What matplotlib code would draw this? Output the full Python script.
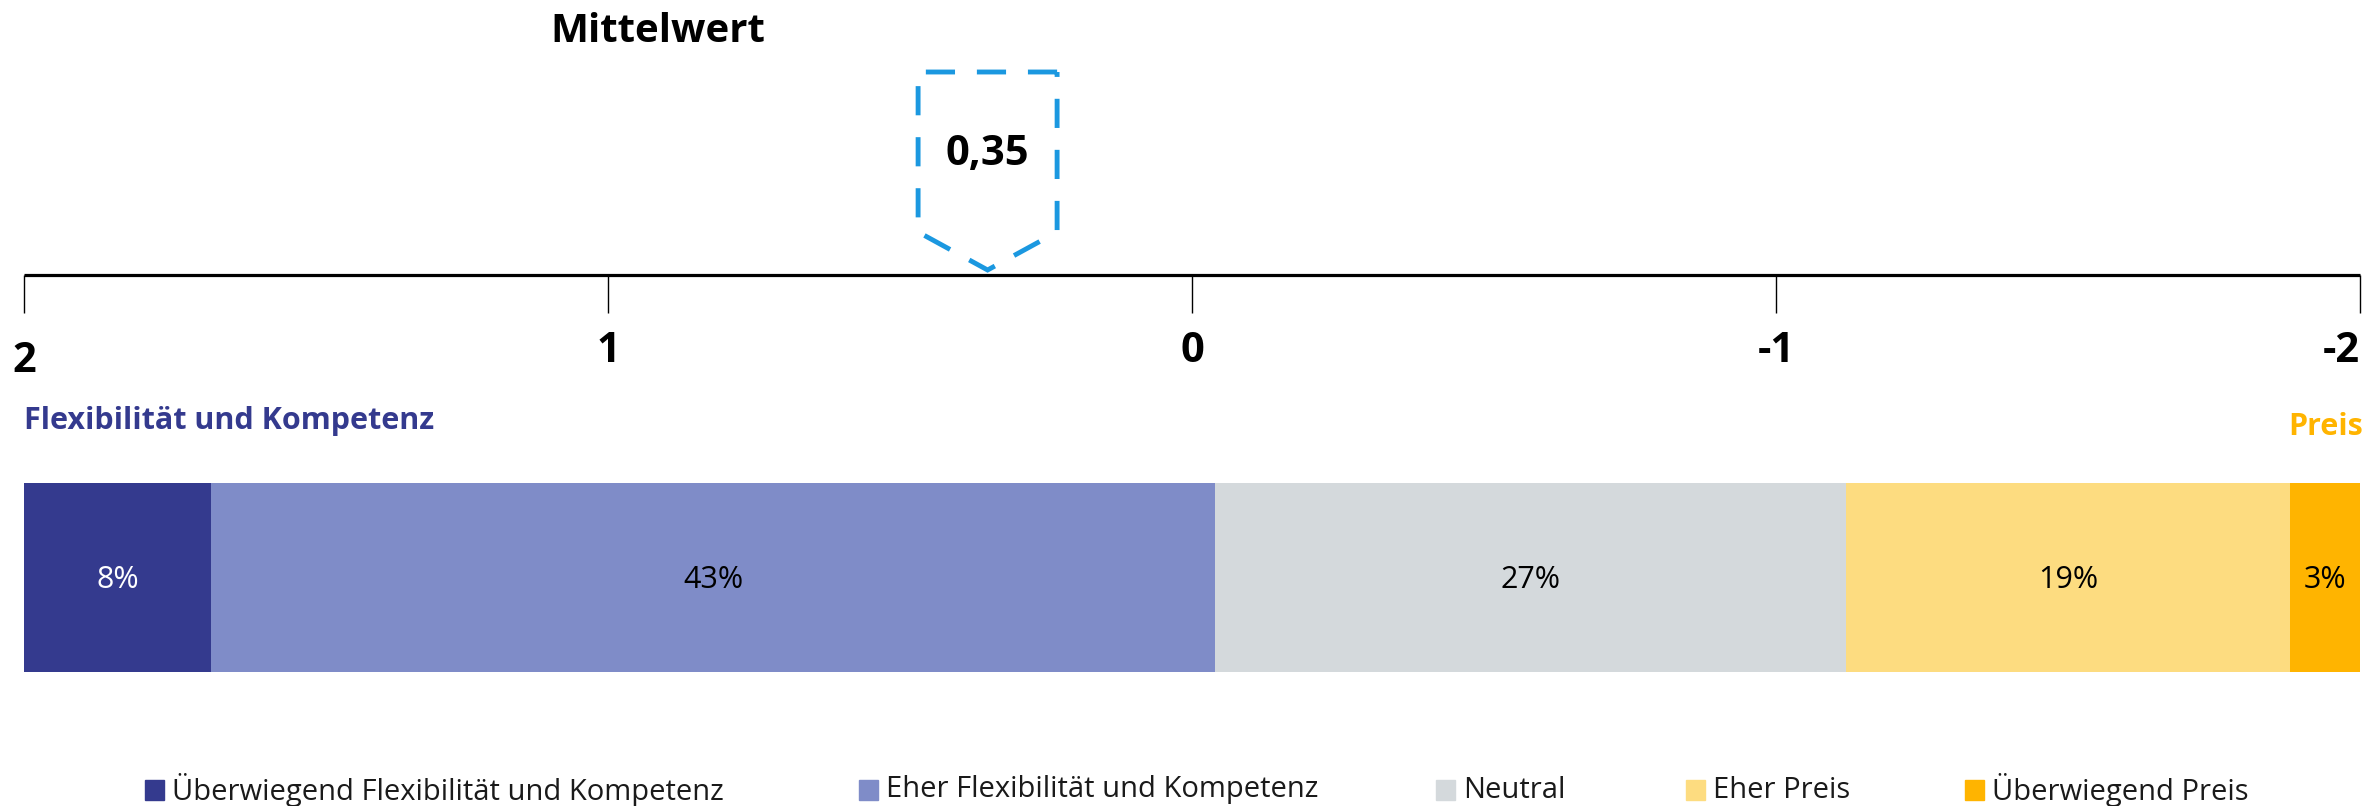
import matplotlib
matplotlib.use("Agg")
import matplotlib.pyplot as plt
from matplotlib.patches import Polygon, Rectangle

# ---- data ----
categories = ["Überwiegend Flexibilität und Kompetenz", "Eher Flexibilität und Kompetenz",
              "Neutral", "Eher Preis", "Überwiegend Preis"]
shares = [8, 43, 27, 19, 3]
share_labels = ["8%", "43%", "27%", "19%", "3%"]
colors = ["#343a8e", "#7f8cc8", "#d4d9dc", "#fddc80", "#ffb400"]
label_colors = ["white", "black", "black", "black", "black"]
scale_ticks = [2, 1, 0, -1, -2]
scale_tick_labels = ["2", "1", "0", "-1", "-2"]
mean_value = 0.35
mean_label = "0,35"

W, H = 2367, 806
plt.rcParams['font.family'] = ['Open Sans', 'DejaVu Sans']
fig = plt.figure(figsize=(W / 100, H / 100), dpi=100)

left_px, right_px = 24, 2360
pos = [left_px / W, 0, (right_px - left_px) / W, 1]

# scale axes: x in scale units, y in pixel rows (top = 0)
ax_s = fig.add_axes(pos)
ax_s.set_xlim(2, -2)
ax_s.set_ylim(H, 0)
ax_s.axis('off')

# bar axes: x in percent
ax_b = fig.add_axes(pos)
ax_b.set_xlim(0, 100)
ax_b.set_ylim(H, 0)
ax_b.axis('off')

# scale line and ticks
ax_s.hlines(275, scale_ticks[0], scale_ticks[-1], color='black', lw=2.3, clip_on=False)
ax_s.vlines(scale_ticks, 275, 313, color='black', lw=1.0, clip_on=False)
for i, (v, t) in enumerate(zip(scale_ticks, scale_tick_labels)):
    y = 362 if i == 0 else 351
    ha = 'center'
    if i == len(scale_ticks) - 1:
        ha = 'right'
    ax_s.text(v, y, t, ha=ha, va='center', fontsize=30, fontweight='bold',
              color='black', clip_on=False)

# mean marker (dashed pentagon)
hw = 69.5 / ((right_px - left_px) / 4)
pts = [(mean_value - hw, 72), (mean_value + hw, 72), (mean_value + hw, 232),
       (mean_value, 270), (mean_value - hw, 232)]
ax_s.add_patch(Polygon(pts, closed=True, fill=False, edgecolor='#1b98e0', lw=3.5,
                       linestyle=(0, (6, 4.5)), clip_on=False))
ax_s.text(mean_value, 154, mean_label, ha='center', va='center', fontsize=30,
          fontweight='bold', color='black')

fig.text(658 / W, 1 - 32 / H, "Mittelwert", ha='center', va='center', fontsize=29,
         fontweight='bold', color='black')

# end labels
fig.text(24 / W, 1 - 421 / H, "Flexibilität und Kompetenz", ha='left', va='center',
         fontsize=22, fontweight='bold', color='#343a8e')
fig.text(2363 / W, 1 - 427 / H, "Preis", ha='right', va='center',
         fontsize=22, fontweight='bold', color='#ffb400')

# stacked bar
start = 0
for s, lab, c, lc in zip(shares, share_labels, colors, label_colors):
    ax_b.barh(577.5, s, left=start, height=189, color=c, edgecolor='none')
    ax_b.text(start + s / 2, 580, lab, ha='center', va='center', fontsize=22, color=lc)
    start += s

# legend (manual placement)
legend_x = [145, 859, 1436, 1686, 1965]
for x, cat, c in zip(legend_x, categories, colors):
    fig.patches.append(Rectangle((x / W, 1 - 800 / H), 19 / W, 20 / H, color=c,
                                 transform=fig.transFigure, figure=fig))
    fig.text((x + 27) / W, 1 - 790 / H, cat, ha='left', va='center', fontsize=21,
             color='#1a1a1a')

fig.savefig("out.png", dpi=100)
